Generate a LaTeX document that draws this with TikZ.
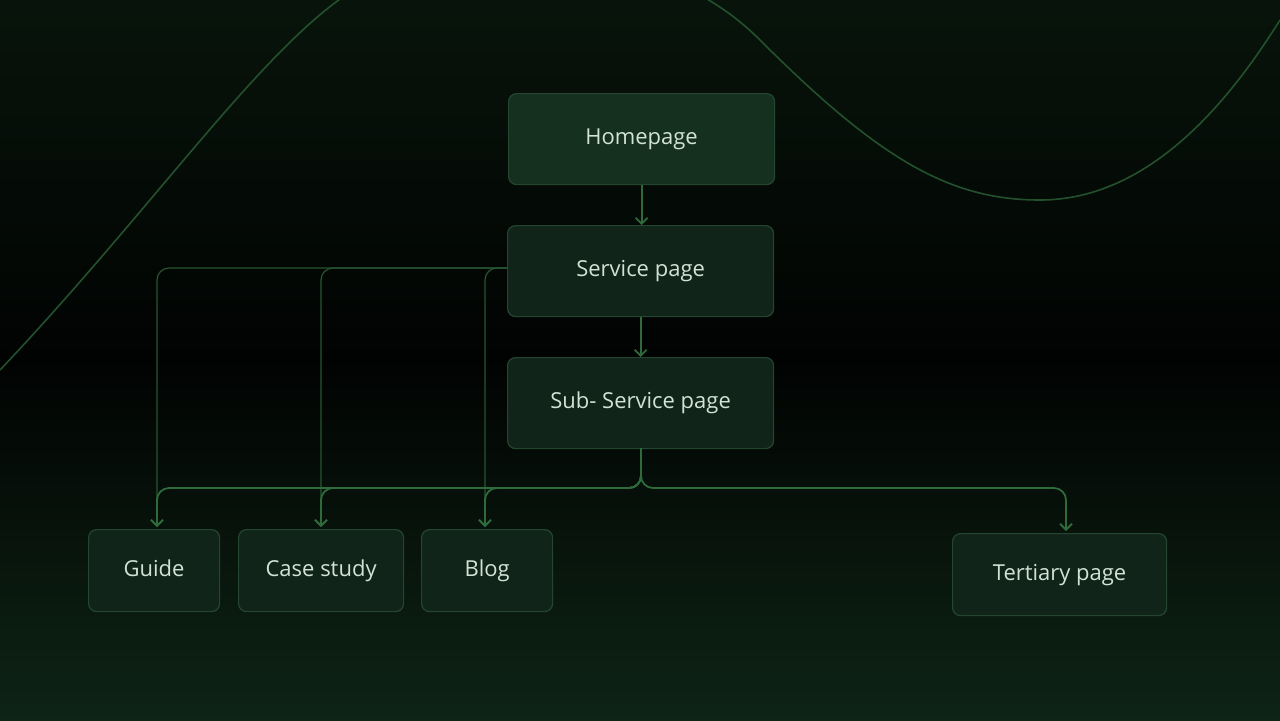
\documentclass[tikz,border=0pt]{standalone}
\usepackage{fontspec}
\setmainfont{Open Sans}
\usetikzlibrary{arrows.meta}
\definecolor{bgt}{HTML}{08140B}
\definecolor{bgm}{HTML}{010302}
\definecolor{bgb}{HTML}{0E2415}
\definecolor{boxf}{HTML}{11241A}
\definecolor{homef}{HTML}{16301F}
\definecolor{boxd}{HTML}{244630}
\definecolor{lnc}{HTML}{2F6A3C}
\definecolor{wave}{HTML}{24512D}
\definecolor{txt}{HTML}{D2E2D4}
\tikzset{
  pagebox/.style={draw=boxd, line width=0.6pt, fill=boxf, rounded corners=4pt, text=txt, font=\fontsize{11}{13}\selectfont, anchor=north west, inner sep=0pt, text height=8pt, text depth=2.5pt},
  conn/.style={draw=lnc, line width=0.9pt, rounded corners=6pt, -{Straight Barb[length=3pt,width=6pt]}},
  thin conn/.style={conn, line width=0.6pt, draw=lnc!80!black}
}
\begin{document}
\begin{tikzpicture}[x=0.5pt,y=-0.5pt]
\useasboundingbox (0,0) rectangle (1280,720);
\shade[top color=bgt, bottom color=bgb, middle color=bgm] (0,0) rectangle (1280,720);
\draw[wave, line width=0.8pt] (0,370) .. controls (180,180) and (300,-10) .. (400,-30)
  .. controls (560,-60) and (680,-40) .. (760,40)
  .. controls (880,160) and (950,200) .. (1040,200)
  .. controls (1150,200) and (1230,100) .. (1280,20);
\node[pagebox, fill=homef, minimum width=133pt, minimum height=45.5pt] (home) at (508,93) {Homepage};
\node[pagebox, minimum width=133pt, minimum height=45.5pt] (serv) at (507,225) {Service page};
\node[pagebox, minimum width=133pt, minimum height=45.5pt] (sub) at (507,357) {Sub- Service page};
\node[pagebox, minimum width=65.5pt, minimum height=41pt] (guide) at (88,529) {Guide};
\node[pagebox, minimum width=82.5pt, minimum height=41pt] (case) at (238,529) {Case study};
\node[pagebox, minimum width=65.5pt, minimum height=41pt] (blog) at (421,529) {Blog};
\node[pagebox, minimum width=107pt, minimum height=41pt] (tert) at (952,533) {Tertiary page};
\draw[conn] (home.south) -- (home.south |- serv.north);
\draw[conn] (serv.south) -- (sub.north);
\coordinate (sl) at (507,268);
\draw[thin conn] (sl) -- (157,268) -- (157,527);
\draw[thin conn] (sl) -- (321,268) -- (321,527);
\draw[thin conn] (sl) -- (485,268) -- (485,527);
\coordinate (sb) at (641,448);
\draw[conn] (sb) -- (641,488) -- (157,488) -- (157,527);
\draw[conn] (sb) -- (641,488) -- (321,488) -- (321,527);
\draw[conn] (sb) -- (641,488) -- (485,488) -- (485,527);
\draw[conn] (sb) -- (641,488) -- (1066,488) -- (1066,531);
\end{tikzpicture}
\end{document}
